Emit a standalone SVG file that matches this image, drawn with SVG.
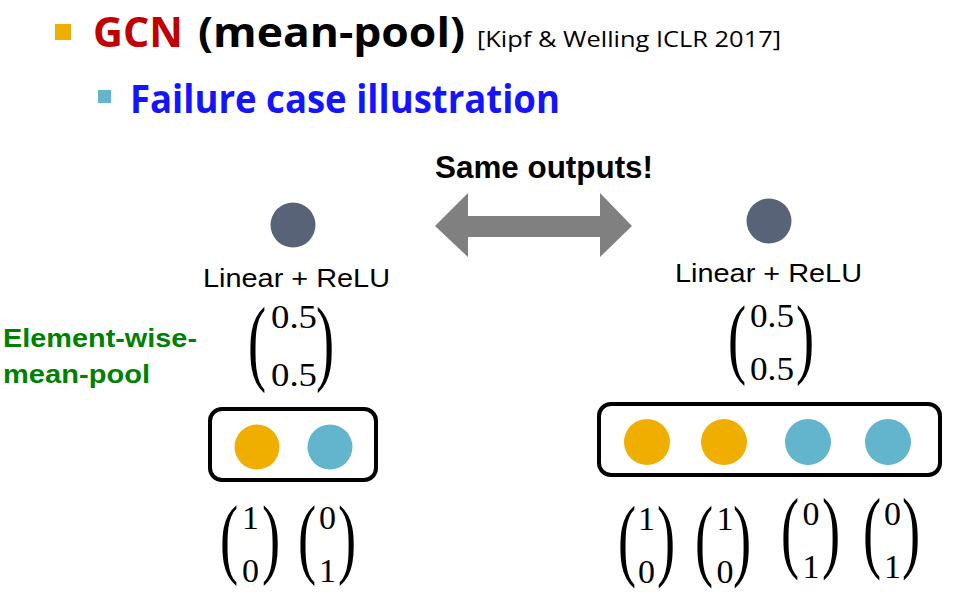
<svg xmlns="http://www.w3.org/2000/svg" width="964" height="599" viewBox="0 0 964 599">
<style>
.t1{font-family:"Open Sans","Noto Sans","Liberation Sans",sans-serif;font-weight:bold}
.ref{font-family:"Open Sans","Noto Sans","Liberation Sans",sans-serif;font-size:22px;fill:#000}
.lab{font-family:"Liberation Sans",Arial,sans-serif;font-size:26px;fill:#000}
.grn{font-family:"Liberation Sans",Arial,sans-serif;font-size:26px;font-weight:bold;fill:#008000}
.m{font-family:"Liberation Serif","Times New Roman",serif;font-size:34px;fill:#000}
.d{font-family:"Liberation Serif","Times New Roman",serif;font-size:34px;fill:#000;text-anchor:middle}
.p{font-family:"Liberation Serif","Times New Roman",serif;font-size:64px;fill:#000}
.node{fill:#596377}
.or{fill:#F0AE00}
.bl{fill:#62B5CC}
.box{fill:none;stroke:#000;stroke-width:4}
</style>
<rect width="964" height="599" fill="#fff"/>
<g id="title">
<rect x="55" y="24" width="16" height="16" fill="#F0AE00"/>
<text class="t1" x="93" y="47" font-size="42" fill="#C00000" textLength="90" lengthAdjust="spacingAndGlyphs">GCN</text>
<text class="t1" x="198" y="47" font-size="42" fill="#000" textLength="267" lengthAdjust="spacingAndGlyphs">(mean-pool)</text>
<text class="ref" x="477" y="47" textLength="304" lengthAdjust="spacingAndGlyphs">[Kipf &amp; Welling ICLR 2017]</text>
<rect x="98" y="90" width="13" height="13" fill="#62B5CC"/>
<text class="t1" x="130" y="113" font-size="40" fill="#1414FF" textLength="430" lengthAdjust="spacingAndGlyphs">Failure case illustration</text>
</g>
<g id="same-outputs">
<text x="435" y="178" font-family="Liberation Sans,Arial,sans-serif" font-weight="bold" font-size="31" textLength="218" lengthAdjust="spacingAndGlyphs">Same outputs!</text>
</g>
<g id="connectors">
<path d="M435,226 L468,193 L468,216 L600,216 L600,193 L632,226 L600,257 L600,237 L468,237 L468,257 Z" fill="#808080"/>
</g>
<g id="label-mean-pool">
<text class="grn" x="3" y="347" textLength="194" lengthAdjust="spacingAndGlyphs">Element-wise-</text>
<text class="grn" x="3" y="383" textLength="147" lengthAdjust="spacingAndGlyphs">mean-pool</text>
</g>
<g id="left-out">
<circle class="node" cx="293" cy="225" r="22.5"/>
<text class="lab" x="203" y="287" textLength="187" lengthAdjust="spacingAndGlyphs">Linear + ReLU</text>
<text class="p" transform="translate(248,373) scale(0.85,1.502)">(</text>
<text class="p" transform="translate(316,373) scale(0.85,1.502)">)</text>
<text class="m" x="271" y="328" textLength="46" lengthAdjust="spacingAndGlyphs">0.5</text>
<text class="m" x="271" y="386" textLength="46" lengthAdjust="spacingAndGlyphs">0.5</text>
</g>
<g id="right-out">
<circle class="node" cx="769" cy="221" r="22.5"/>
<text class="lab" x="675" y="282" textLength="187" lengthAdjust="spacingAndGlyphs">Linear + ReLU</text>
<text class="p" transform="translate(728,367) scale(0.85,1.392)">(</text>
<text class="p" transform="translate(796,367) scale(0.85,1.392)">)</text>
<text class="m" x="750" y="327" textLength="44" lengthAdjust="spacingAndGlyphs">0.5</text>
<text class="m" x="750" y="380" textLength="44" lengthAdjust="spacingAndGlyphs">0.5</text>
</g>
<g id="left-pool">
<rect class="box" x="210" y="409" width="166" height="71" rx="12"/>
<circle class="or" cx="257" cy="447" r="22.5"/>
<circle class="bl" cx="330" cy="447" r="22.5"/>
</g>
<g id="right-pool">
<rect class="box" x="599" y="404" width="341" height="71" rx="12"/>
<circle class="or" cx="647" cy="442" r="23"/>
<circle class="or" cx="724" cy="442" r="23"/>
<circle class="bl" cx="808" cy="442" r="23"/>
<circle class="bl" cx="888" cy="442" r="23"/>
</g>
<g id="left-inputs">
<text class="p" transform="translate(220,567) scale(0.85,1.392)">(</text>
<text class="p" transform="translate(262,567) scale(0.85,1.392)">)</text>
<text class="d" x="250.5" y="529">1</text>
<text class="d" x="250.5" y="582">0</text>
<text class="p" transform="translate(298,567) scale(0.85,1.392)">(</text>
<text class="p" transform="translate(338,567) scale(0.85,1.392)">)</text>
<text class="d" x="327.5" y="529">0</text>
<text class="d" x="327.5" y="582">1</text>
</g>
<g id="right-inputs">
<text class="p" transform="translate(618,569) scale(0.85,1.429)">(</text>
<text class="p" transform="translate(657,569) scale(0.85,1.429)">)</text>
<text class="d" x="646.5" y="530">1</text>
<text class="d" x="646.5" y="583">0</text>
<text class="p" transform="translate(695,569) scale(0.85,1.429)">(</text>
<text class="p" transform="translate(733,569) scale(0.85,1.429)">)</text>
<text class="d" x="725" y="530">1</text>
<text class="d" x="725" y="583">0</text>
<text class="p" transform="translate(781,561) scale(0.85,1.41)">(</text>
<text class="p" transform="translate(822,561) scale(0.85,1.41)">)</text>
<text class="d" x="811" y="525">0</text>
<text class="d" x="811" y="578">1</text>
<text class="p" transform="translate(863,561) scale(0.85,1.41)">(</text>
<text class="p" transform="translate(902,561) scale(0.85,1.41)">)</text>
<text class="d" x="892.5" y="525">0</text>
<text class="d" x="892.5" y="578">1</text>
</g>
</svg>
